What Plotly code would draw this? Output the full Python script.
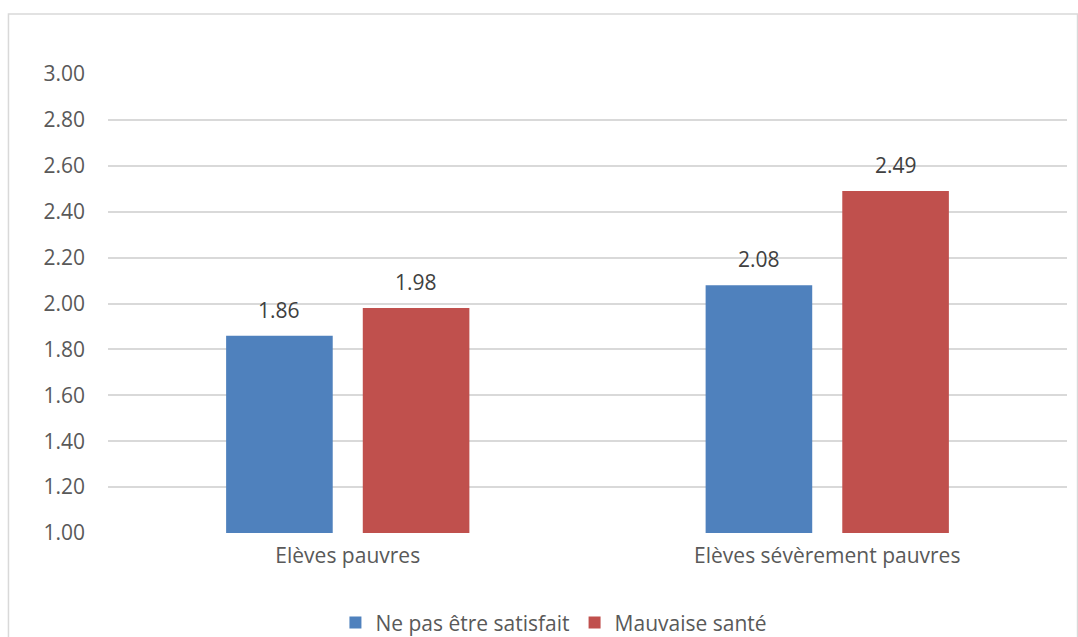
import plotly.graph_objects as go

categories = ["Elèves pauvres", "Elèves sévèrement pauvres"]
series_names = ["Ne pas être satisfait", "Mauvaise santé"]
satisfait = [1.86, 2.08]
sante = [1.98, 2.49]
tick_vals = [1.0, 1.2, 1.4, 1.6, 1.8, 2.0, 2.2, 2.4, 2.6, 2.8, 3.0]

FONT = "Open Sans"
TXT = "#595959"
FS = 21

series = [(series_names[0], satisfait, "#4f81bd", -68.5),
          (series_names[1], sante, "#c0504d", 68.5)]

fig = go.Figure()
annotations = []
for name, vals, col, shift in series:
    fig.add_trace(go.Bar(
        x=categories, y=[v - 1.0 for v in vals], base=1.0, name=name,
        marker=dict(color=col, line=dict(width=0)),
    ))
    for c, v in zip(categories, vals):
        annotations.append(dict(
            x=c, y=v, xref="x", yref="y", text=f"{v:.2f}", showarrow=False,
            xshift=shift, yshift=26, yanchor="middle",
            font=dict(size=FS, color="#404040", family=FONT)))

fig.update_layout(
    width=1078, height=637,
    margin=dict(l=108, r=11, t=74, b=104, autoexpand=False),
    paper_bgcolor="white", plot_bgcolor="white",
    barmode="group", bargap=0.43, bargroupgap=0.22,
    font=dict(family=FONT, size=FS, color=TXT),
    xaxis=dict(showgrid=False, showline=False, ticks="", ticklabelstandoff=8,
               tickfont=dict(size=FS, color=TXT)),
    yaxis=dict(range=[1.0, 3.0], tickvals=tick_vals, tickformat=".2f",
               showgrid=True, gridcolor="#d9d9d9", gridwidth=1.5,
               zeroline=False, showline=False, ticks="", ticklabelstandoff=22,
               tickfont=dict(size=FS, color=TXT)),
    showlegend=True,
    legend=dict(orientation="h", x=0.465, xanchor="center", y=-0.196, yanchor="middle",
                font=dict(size=FS, color=TXT), itemwidth=30, traceorder="normal",
                bgcolor="rgba(0,0,0,0)"),
    annotations=annotations,
    shapes=[dict(type="rect", xref="paper", yref="paper",
                 x0=-0.1038, x1=1.011, y0=-0.35, y1=1.1307,
                 line=dict(color="#d9d9d9", width=1.5), fillcolor="rgba(0,0,0,0)", layer="below")],
)

fig.write_html("out.html")
